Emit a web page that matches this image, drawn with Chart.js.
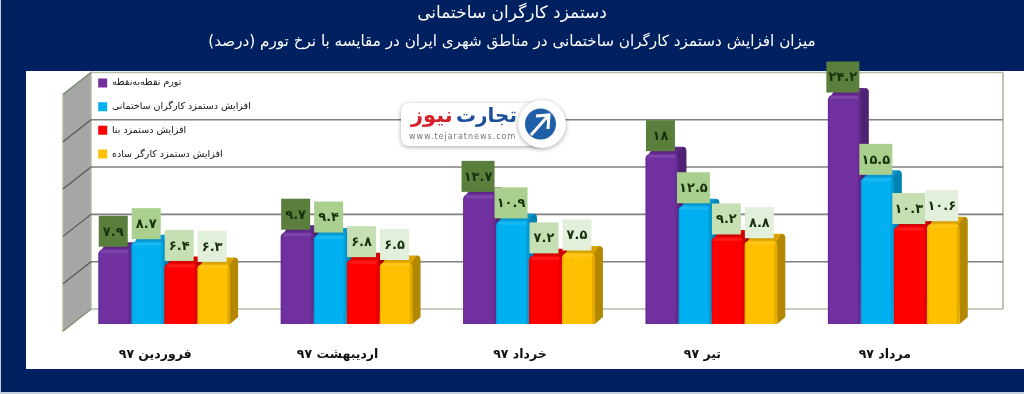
<!DOCTYPE html>
<html lang="fa"><head><meta charset="utf-8">
<style>html,body{margin:0;padding:0;background:#00205f}canvas{display:block}</style>
<script src="https://cdn.jsdelivr.net/npm/chart.js@4"></script>
</head><body><canvas id="c" width="1024" height="394"></canvas>
<script>
const categories = ["فروردین ۹۷","اردیبهشت ۹۷","خرداد ۹۷","تیر ۹۷","مرداد ۹۷"];
const inflation = [7.9,9.7,13.7,18,24.2];
const constructionWage = [8.7,9.4,10.9,12.5,15.5];
const masonWage = [6.4,6.8,7.2,9.2,10.3];
const laborerWage = [6.3,6.5,7.5,8.8,10.6];
const seriesNames = ["تورم نقطه‌به‌نقطه","افزایش دستمزد کارگران ساختمانی","افزایش دستمزد بنا","افزایش دستمزد کارگر ساده"];
const frontColors = ["#7030a0","#00b0f0","#ff0000","#ffc000"];
const sideColors = ["#4f2173","#0082b4","#b30000","#b38700"];
const topColors = ["#5f2888","#0a97cf","#d40000","#d9a300"];
const labelColors = ["#5a7f3c","#a9d08e","#c6e0b4","#e2efda"];
const titleText = "دستمزد کارگران ساختمانی";
const subtitleText = "میزان افزایش دستمزد کارگران ساختمانی در مناطق شهری ایران در مقایسه با نرخ تورم (درصد)";
const FONT = '"DejaVu Sans", sans-serif';
const fa = v => String(v).replace(/\d/g, d => "۰۱۲۳۴۵۶۷۸۹"[d]);

const scene = {
  id:'scene',
  beforeDraw(chart){
    const {ctx,chartArea:a,scales:{y}} = chart;
    ctx.save();
    ctx.fillStyle='#00205f'; ctx.fillRect(0,0,1024,394);
    ctx.fillStyle='#ffffff'; ctx.fillRect(26,71,998,298);
    ctx.fillStyle='#c3cede'; ctx.fillRect(0,392,1024,2); ctx.fillRect(0,0,1,394);
    const bx=a.left+18, rx=a.right+18, fx=a.left-10, back=-15, front=7;
    const y0=y.getPixelForValue(0), yM=y.getPixelForValue(y.max);
    ctx.fillStyle='#a6a6a6';
    ctx.beginPath();
    ctx.moveTo(fx,yM+front);ctx.lineTo(bx,yM+back);ctx.lineTo(bx,y0+back);ctx.lineTo(fx,y0+front);ctx.closePath();ctx.fill();
    ctx.strokeStyle='#aebc9f';ctx.lineWidth=1.5;ctx.stroke();
    ctx.beginPath();ctx.moveTo(rx,yM+back);ctx.lineTo(rx,y0+back);ctx.strokeStyle='#bcc6b0';ctx.lineWidth=2;ctx.stroke();
    y.ticks.forEach(t=>{
      const p=y.getPixelForValue(t.value);
      const edge=t.value===0||t.value===y.max;
      ctx.strokeStyle=edge?'#b3bfa6':'#7f7f7f';
      ctx.lineWidth=edge?1.5:1.6;
      ctx.beginPath();ctx.moveTo(bx,p+back);ctx.lineTo(rx,p+back);ctx.stroke();
      ctx.strokeStyle=edge?'#7f8a75':'#555555';
      ctx.lineWidth=1.2;
      ctx.beginPath();ctx.moveTo(fx,p+front);ctx.lineTo(bx,p+back);ctx.stroke();
    });
    logo(ctx);
    ctx.restore();
    if(chart.legend){chart.legend.left=84;chart.legend.top=64;}
  },
  beforeDatasetsDraw(chart){
    const {ctx}=chart; const dx=8, dy=7;
    ctx.save();
    chart.data.datasets.forEach((d,i)=>{
      chart.getDatasetMeta(i).data.forEach(b=>{
        const l=b.x-b.width/2, r=b.x+b.width/2, t=b.y, base=b.base;
        ctx.fillStyle=sideColors[i];
        ctx.beginPath();
        ctx.moveTo(r-3,t);ctx.lineTo(r+dx-4,t-dy);
        ctx.quadraticCurveTo(r+dx,t-dy,r+dx,t-dy+4);
        ctx.lineTo(r+dx,base-dy);ctx.lineTo(r,base);ctx.closePath();ctx.fill();
        ctx.fillStyle=topColors[i];
        ctx.beginPath();
        ctx.moveTo(l+3,t+1);ctx.lineTo(l+dx,t-dy);ctx.lineTo(r+dx-4,t-dy);ctx.lineTo(r-1,t+1);ctx.closePath();ctx.fill();
      });
    });
    ctx.restore();
  },
  afterDatasetsDraw(chart){
    const {ctx}=chart;
    ctx.save();
    chart.data.datasets.forEach((d,i)=>{
      chart.getDatasetMeta(i).data.forEach(b=>{
        const l=b.x-b.width/2, r=b.x+b.width/2;
        ctx.fillStyle='rgba(0,0,0,.10)';ctx.fillRect(r-3,b.y+3,3,b.base-b.y-3);
        ctx.fillStyle='rgba(0,0,0,.08)';ctx.fillRect(l,b.y+4,1.5,b.base-b.y-4);
        ctx.fillStyle='rgba(255,255,255,.10)';ctx.fillRect(l+3,b.y+1,b.width-6,3);
      });
    });
    ctx.font='bold 13px '+FONT;ctx.textAlign='center';ctx.textBaseline='middle';
    chart.data.datasets.forEach((d,i)=>{
      chart.getDatasetMeta(i).data.forEach((b,j)=>{
        const s=fa(d.data[j]);
        const w=Math.max(29,Math.min(33,ctx.measureText(s).width+5)), h=31;
        const cx=b.x-1.5, bot=b.y-2.5;
        ctx.fillStyle=labelColors[i];ctx.fillRect(cx-w/2,bot-h,w,h);
        ctx.fillStyle='#17300d';ctx.fillText(s,cx,bot-h/2+1);
      });
    });
    ctx.restore();
  }
};

function logo(ctx){
  ctx.save();
  ctx.shadowColor='rgba(0,0,0,.35)';ctx.shadowBlur=4;ctx.shadowOffsetY=1;
  ctx.fillStyle='#ffffff';
  ctx.beginPath();ctx.roundRect(401,103,145,43,8);ctx.fill();
  ctx.beginPath();ctx.arc(542,124,24,0,Math.PI*2);ctx.fill();
  ctx.shadowColor='transparent';
  ctx.fillStyle='#1f5fa8';ctx.beginPath();ctx.arc(540.5,124,15.5,0,Math.PI*2);ctx.fill();
  ctx.strokeStyle='#ffffff';ctx.lineWidth=3;
  ctx.beginPath();ctx.moveTo(531,135);ctx.lineTo(547,117);ctx.moveTo(536,116);ctx.lineTo(549,115);ctx.lineTo(548,129);ctx.stroke();
  ctx.textBaseline='middle';ctx.textAlign='left';
  ctx.font='bold 21px '+FONT;
  ctx.fillStyle='#d6202a';ctx.fillText("نیوز",411,117);
  ctx.fillStyle='#1f4f9c';ctx.textAlign='right';ctx.font='bold 20px '+FONT;ctx.fillText("تجارت",517,117);
  ctx.font='8px '+FONT;ctx.fillStyle='#777777';ctx.textAlign='left';
  ctx.letterSpacing='1px';ctx.fillText("www.tejaratnews.com",409,137);
  ctx.restore();
}

new Chart(document.getElementById('c'),{
  type:'bar',
  data:{labels:categories,datasets:[inflation,constructionWage,masonWage,laborerWage].map((v,i)=>({
    label:seriesNames[i],data:v,backgroundColor:frontColors[i],
    borderRadius:{topLeft:5,topRight:5,bottomLeft:0,bottomRight:0},borderSkipped:false,
    barPercentage:1,categoryPercentage:0.723
  }))},
  options:{
    responsive:false,animation:false,
    layout:{padding:0},
    plugins:{
      tooltip:{enabled:false},
      title:{display:true,text:titleText,color:'#ffffff',font:{family:FONT,size:17,weight:'normal'},padding:{top:3,bottom:0}},
      subtitle:{display:true,text:subtitleText,color:'#ffffff',font:{family:FONT,size:15.2,weight:'normal'},padding:{top:9.6,bottom:36.2}},
      legend:{position:'chartArea',align:'start',
        labels:{boxWidth:9,boxHeight:9,padding:14.2,color:'#111111',font:{family:FONT,size:9.5}}}
    },
    scales:{
      x:{grid:{display:false},border:{display:false},
        ticks:{color:'#111111',font:{family:FONT,size:12.5,weight:'bold'},padding:15,maxRotation:0,labelOffset:-9},
        afterFit(s){s.height=70;}},
      y:{min:0,max:25,position:'left',grid:{display:false},border:{display:false},
        ticks:{display:false,stepSize:5},afterFit(s){s.width=73;}},
      yRight:{min:0,max:25,position:'right',grid:{display:false},border:{display:false},
        ticks:{display:false},afterFit(s){s.width=39;}}
    }
  },
  plugins:[scene]
});
</script></body></html>
